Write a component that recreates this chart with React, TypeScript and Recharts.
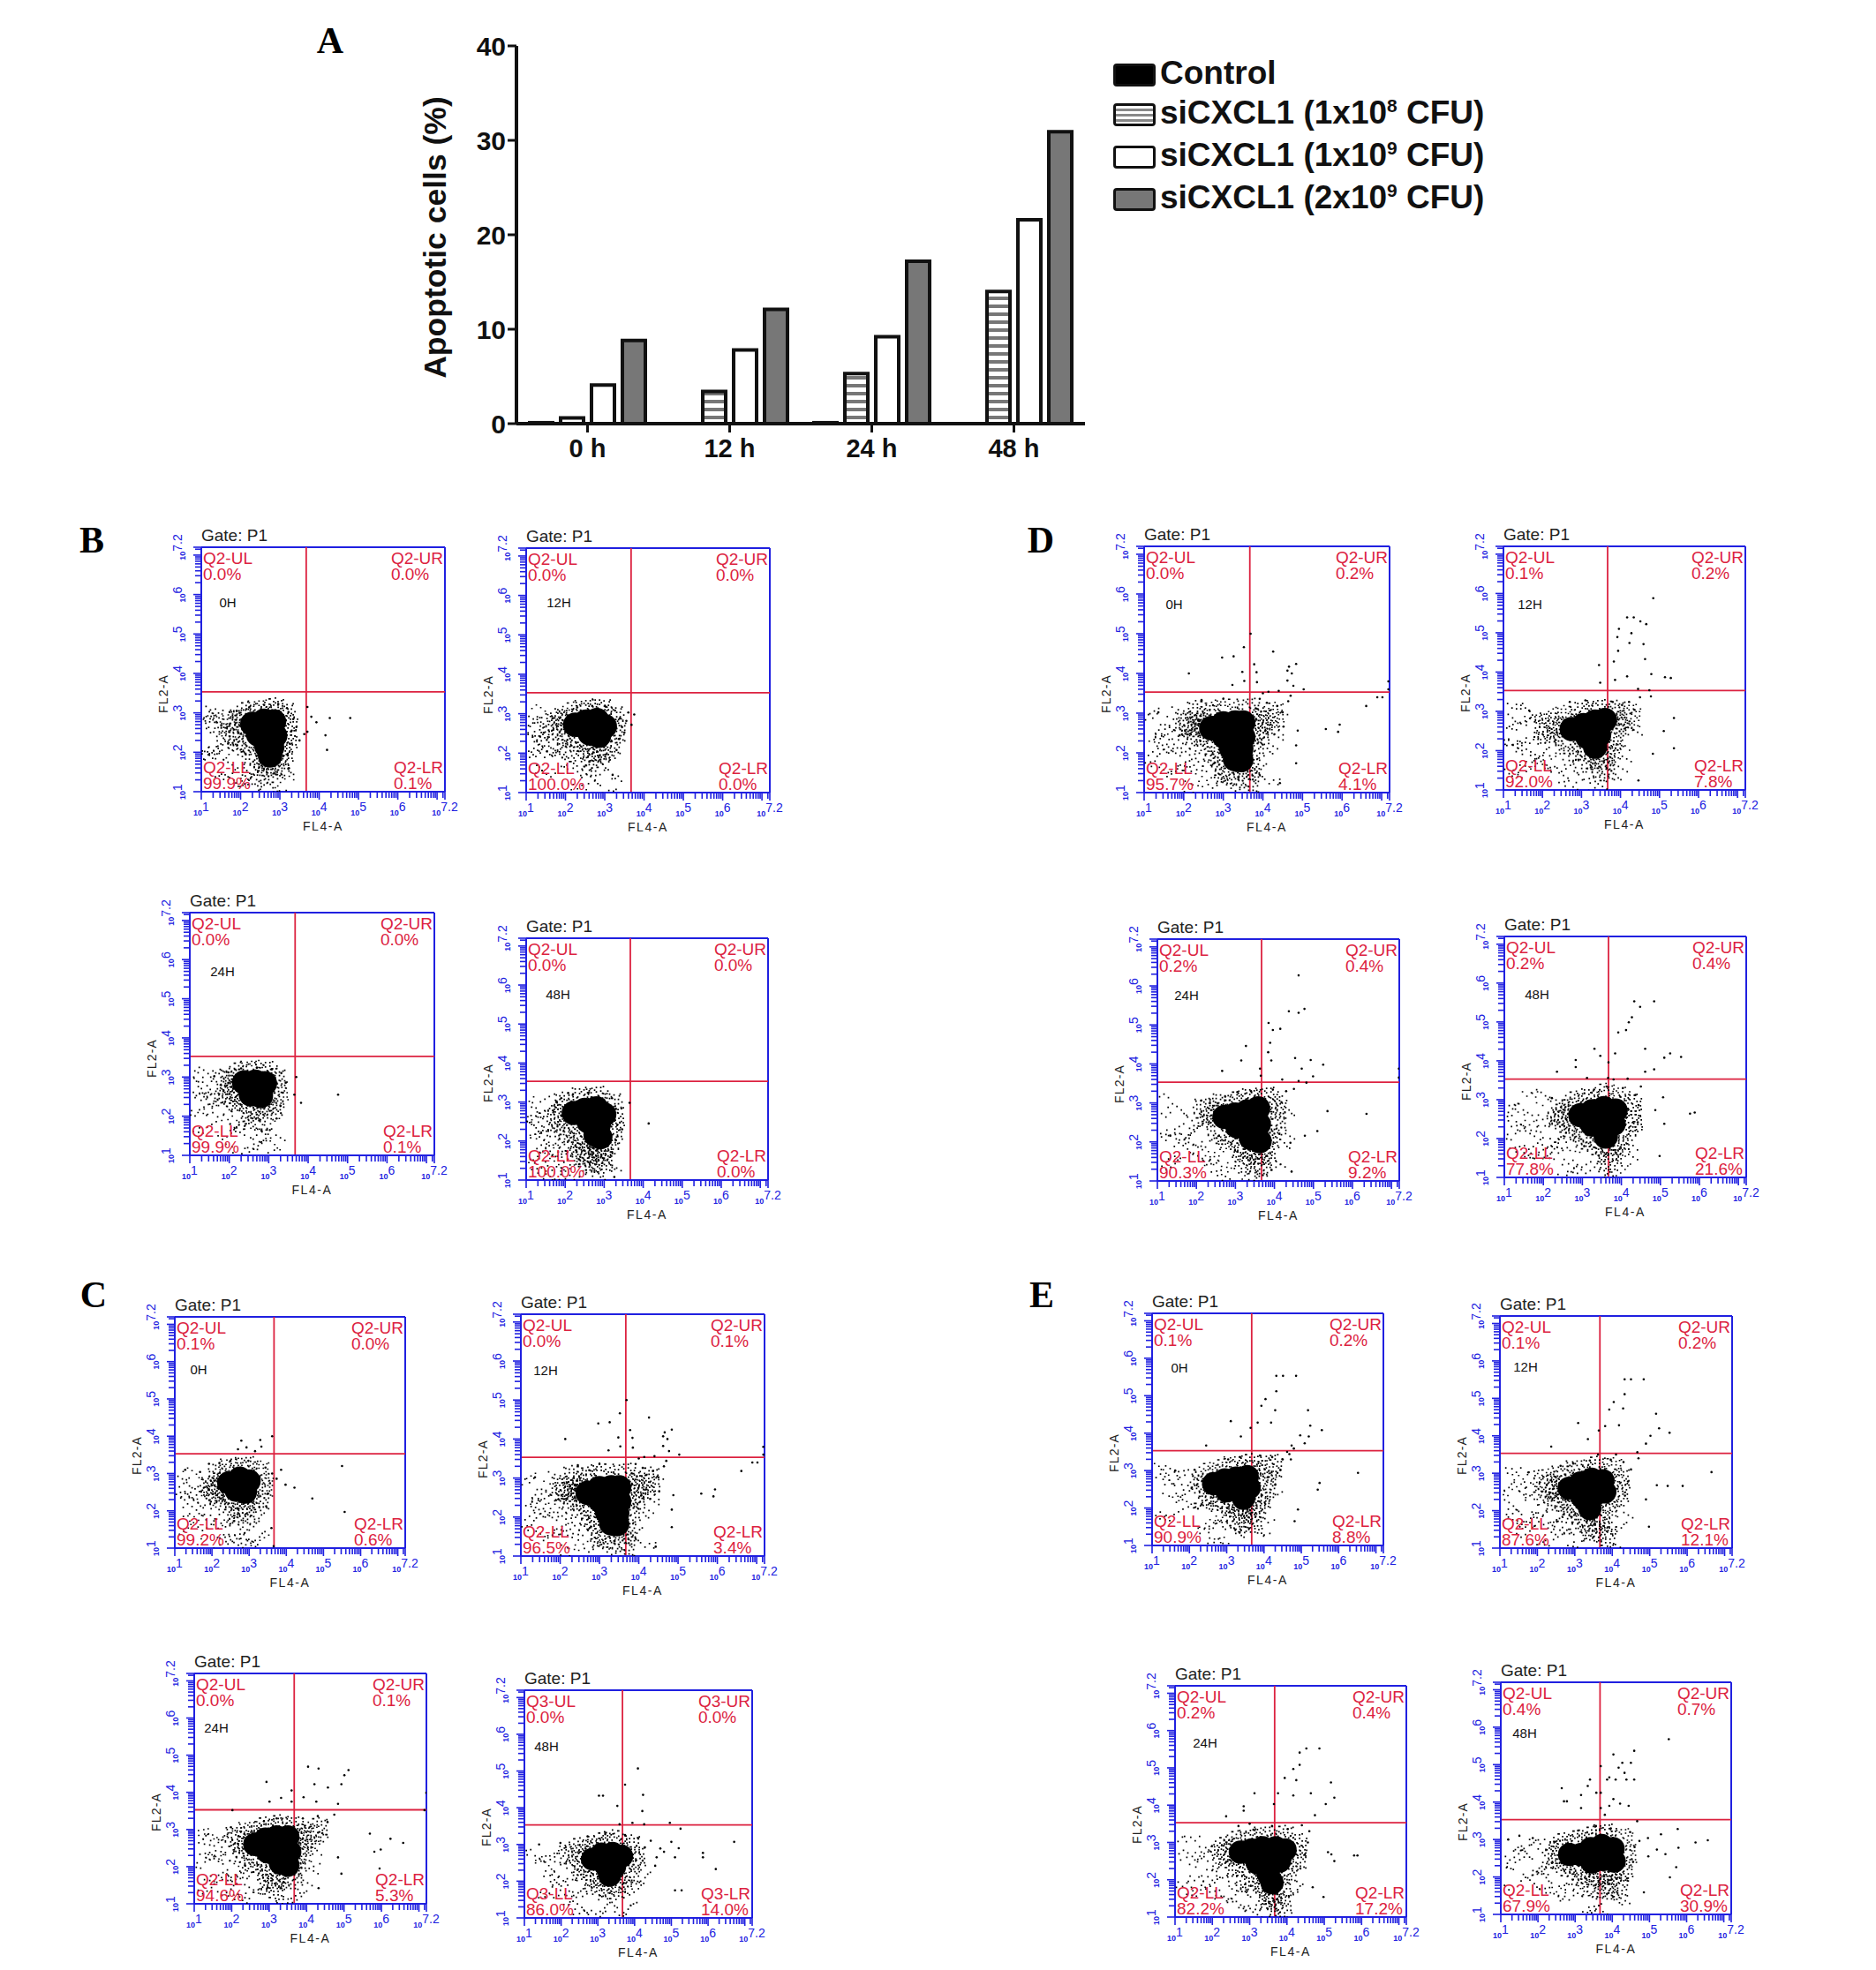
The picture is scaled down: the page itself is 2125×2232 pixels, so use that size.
import React from "react";
import {
  BarChart,
  Bar,
  XAxis,
  YAxis,
  ScatterChart,
  Scatter,
  ReferenceLine
} from "recharts";

const SANS = "'Liberation Sans', Arial, sans-serif";
const SERIF = "'Liberation Serif', 'Times New Roman', serif";
const BLUE = "#2020e0";
const RED = "#dc2240";

// panel A
const hours = ["0 h", "12 h", "24 h", "48 h"];
const control = [0.1, 0, 0.1, 0];
const low = [0.6, 3.4, 5.3, 14.0];
const mid = [4.1, 7.8, 9.2, 21.6];
const high = [8.8, 12.1, 17.2, 30.9];
const apoptosisTicks = [0, 10, 20, 30, 40];

// flow plots, all values are log10 decades
type Pt = [number, number];

const b0Core: Pt[] = [[2.3,2.72],[2.6,2.8],[2.85,2.78],[2.45,2.45],[2.72,2.48],[2.88,2.42],[2.66,2.15],[2.8,2.12],[2.75,1.92]];
const b0Rim: Pt[] = [[2.0,2.82],[1.93,2.55],[2.1,2.98],[2.45,3.05],[2.8,3.08],[3.05,2.98],[3.14,2.68],[3.12,2.32],[3.02,1.98],[2.92,1.72],[2.62,1.72],[2.34,1.98],[2.18,2.28],[1.78,2.72],[2.72,1.55]];
const b0Dots: Pt[] = [[1.08,2.96],[1.17,2.72],[1.24,2.9],[1.32,2.62],[1.41,2.8],[1.5,2.93],[1.57,2.66],[1.66,2.84],[1.18,2.31],[1.3,2.12],[1.44,2.38],[1.58,2.22],[1.71,2.48],[1.82,2.14],[1.95,2.31],[1.12,1.94],[1.27,1.71],[1.48,1.88],[1.64,1.62],[1.82,1.83],[2.0,1.94],[2.14,1.71],[2.28,1.53],[2.06,1.44],[2.44,1.33],[2.62,1.21],[2.78,1.38],[2.94,1.25],[3.06,1.46],[3.13,1.12],[2.5,1.08],[2.31,1.19],[1.88,1.27],[2.7,1.04],[3.23,1.6],[3.2,1.92],[3.25,2.22],[3.3,2.55],[3.34,2.84],[3.22,3.02],[3.42,2.64],[3.5,2.3],[3.18,3.12],[2.96,3.22],[2.6,3.2],[2.22,3.14],[1.9,3.05],[1.72,3.02],[3.7,3.15],[3.8,2.9],[3.93,2.76],[4.27,2.87],[4.79,2.87],[3.62,2.46],[3.7,2.52],[4.16,2.43],[4.2,2.06]];

const b12Core: Pt[] = [[2.25,2.72],[2.52,2.8],[2.8,2.84],[3.0,2.68],[2.62,2.5],[2.85,2.44]];
const b12Rim: Pt[] = [[1.9,2.85],[1.78,2.62],[2.12,3.0],[2.5,3.08],[2.85,3.1],[3.15,2.92],[3.22,2.6],[3.1,2.28],[2.85,2.12],[2.55,2.18],[2.3,2.35],[2.05,2.5],[2.72,1.95]];
const b12Dots: Pt[] = [[1.06,2.92],[1.14,2.66],[1.22,2.83],[1.33,2.95],[1.42,2.7],[1.5,2.52],[1.62,2.79],[1.71,2.94],[1.12,2.2],[1.21,2.42],[1.34,2.18],[1.46,2.31],[1.58,2.07],[1.72,2.26],[1.85,2.02],[1.96,2.21],[1.16,1.82],[1.38,1.94],[1.52,1.71],[1.7,1.86],[1.92,1.76],[2.1,1.93],[2.22,1.67],[2.38,1.84],[2.5,1.56],[2.64,1.72],[2.8,1.6],[2.95,1.82],[3.1,1.68],[3.2,1.45],[2.86,1.32],[2.6,1.2],[3.0,1.1],[3.18,1.06],[2.4,1.36],[3.3,2.08],[3.36,2.36],[3.44,2.66],[3.38,2.88],[3.26,3.08],[3.55,2.82],[3.5,2.52],[3.02,3.18],[2.68,3.2],[2.3,3.16],[3.75,2.98],[3.68,2.72],[3.6,3.03]];

const b24Core: Pt[] = [[2.38,2.86],[2.66,2.88],[2.9,2.84],[2.55,2.56],[2.8,2.52]];
const b24Rim: Pt[] = [[2.05,2.92],[1.95,2.72],[2.2,3.08],[2.55,3.15],[2.9,3.12],[3.12,2.92],[3.18,2.62],[3.05,2.32],[2.82,2.2],[2.56,2.24],[2.3,2.42],[2.12,2.6]];
const b24Dots: Pt[] = [[1.08,2.86],[1.2,2.74],[1.31,2.97],[1.42,2.64],[1.5,2.86],[1.62,3.02],[1.71,2.7],[1.82,2.54],[1.84,2.92],[1.16,2.14],[1.34,2.36],[1.48,2.18],[1.62,2.32],[1.78,2.14],[1.92,2.36],[2.06,2.18],[2.2,2.02],[2.42,2.05],[2.64,1.96],[2.82,2.04],[3.02,2.1],[3.2,1.94],[2.3,1.72],[2.52,1.8],[2.74,1.66],[2.96,1.78],[3.1,1.58],[2.12,1.55],[1.9,1.72],[1.36,1.7],[2.58,1.4],[2.74,1.28],[2.9,1.4],[2.3,1.22],[2.52,1.12],[3.0,1.16],[3.3,2.26],[3.36,2.6],[3.44,2.86],[3.32,3.1],[3.08,3.2],[2.7,3.24],[2.3,3.22],[1.98,3.12],[3.7,3.0],[3.65,2.55],[3.82,2.34],[4.76,2.55]];

const b48Core: Pt[] = [[2.22,2.72],[2.5,2.8],[2.8,2.84],[3.0,2.68],[2.6,2.5],[2.86,2.42],[2.78,2.16],[2.9,2.1]];
const b48Rim: Pt[] = [[1.84,2.72],[1.98,2.95],[2.35,3.08],[2.78,3.12],[3.12,2.95],[3.2,2.6],[3.15,2.25],[3.05,1.9],[2.85,1.74],[2.56,1.82],[2.34,2.08],[2.08,2.32],[2.62,1.55],[2.42,1.72],[2.9,1.52],[1.94,2.48]];
const b48Dots: Pt[] = [[1.06,2.88],[1.16,2.62],[1.28,2.98],[1.4,2.74],[1.52,2.94],[1.64,2.58],[1.78,3.02],[1.1,2.22],[1.25,2.38],[1.38,2.1],[1.5,2.3],[1.66,2.18],[1.82,2.0],[1.94,2.16],[1.14,1.76],[1.3,1.9],[1.46,1.62],[1.62,1.8],[1.76,1.52],[1.94,1.72],[2.08,1.54],[2.2,1.82],[1.2,1.3],[1.42,1.22],[1.68,1.28],[1.88,1.16],[2.1,1.3],[2.28,1.42],[2.46,1.22],[2.66,1.3],[2.82,1.14],[2.98,1.3],[3.12,1.44],[3.26,1.08],[3.2,1.72],[3.3,2.02],[3.34,2.42],[3.3,2.82],[3.2,3.1],[2.6,3.24],[2.2,3.2],[1.9,3.1],[3.46,2.3],[3.65,2.98],[4.14,2.45]];

const d0Core: Pt[] = [[2.7,2.62],[3.0,2.74],[3.3,2.76],[3.5,2.76],[3.02,2.42],[3.28,2.4],[3.5,2.4],[3.2,2.12],[3.45,2.1],[3.3,1.84],[3.45,1.82]];
const d0Rim: Pt[] = [[2.4,2.72],[2.15,2.72],[2.05,2.76],[2.3,2.5],[2.62,2.28],[2.82,2.04],[2.98,1.76],[3.08,1.52],[3.62,1.62],[3.72,2.12],[3.84,2.52],[3.92,2.84],[4.1,2.78],[4.22,2.98],[3.6,3.1],[3.05,3.08],[2.62,2.98],[2.35,3.02],[3.6,1.3]];
const d0Dots: Pt[] = [[3.69,5.0],[3.52,4.66],[2.97,4.4],[3.26,4.43],[4.26,4.55],[2.13,4.0],[3.48,4.04],[3.78,4.23],[3.84,4.03],[3.53,3.81],[3.23,3.71],[3.85,3.78],[4.66,4.17],[4.84,4.24],[4.62,4.07],[4.73,4.0],[4.62,3.82],[4.77,3.69],[5.03,3.6],[7.17,3.8],[7.17,3.6],[6.89,3.4],[7.02,3.4],[6.61,3.18],[5.94,2.71],[5.9,2.53],[5.59,2.6],[4.88,2.56],[4.84,2.19],[4.84,1.74],[4.43,1.24],[4.14,1.09],[2.45,3.33],[1.06,2.96],[1.2,2.74],[1.36,3.02],[1.5,2.62],[1.62,2.86],[1.8,2.55],[1.2,2.2],[1.4,2.38],[1.6,2.12],[1.82,2.3],[1.96,2.1],[2.12,2.34],[1.3,1.7],[1.6,1.86],[1.85,1.6],[2.06,1.82],[2.24,1.55],[2.42,1.9],[2.6,1.66],[2.8,1.42],[2.5,1.28],[2.22,1.18],[2.96,1.2],[3.2,1.35],[3.34,1.18],[3.5,1.1],[3.7,1.42],[3.8,1.74],[3.96,2.0],[4.06,2.3],[4.2,2.52],[4.38,2.74],[4.5,3.02],[4.64,3.3],[4.36,3.18],[4.1,3.26],[3.92,3.36],[3.82,3.12],[4.52,2.66],[4.7,3.44],[4.4,3.56],[4.14,3.54],[4.0,3.5],[3.0,3.36],[2.74,3.2]];

const d12Core: Pt[] = [[2.75,2.55],[3.05,2.65],[3.35,2.74],[3.6,2.78],[3.15,2.35],[3.45,2.4],[3.35,2.1]];
const d12Rim: Pt[] = [[2.4,2.58],[2.2,2.7],[2.6,2.85],[3.0,2.95],[3.4,3.02],[3.82,2.98],[4.0,2.72],[3.78,2.4],[3.7,2.08],[3.5,1.82],[3.2,1.86],[2.95,2.06],[2.62,2.24],[2.05,2.48],[4.2,2.9],[3.55,1.55]];
const d12Dots: Pt[] = [[4.84,5.88],[4.17,5.39],[4.34,5.39],[4.51,5.29],[4.66,5.22],[3.96,5.1],[4.28,4.99],[3.92,4.89],[4.23,4.74],[4.59,4.71],[3.94,4.54],[4.63,4.33],[3.83,4.27],[3.45,4.18],[4.79,3.95],[5.29,3.85],[5.14,3.87],[3.86,3.8],[4.17,3.89],[3.48,3.73],[4.45,3.57],[4.74,3.54],[5.37,2.83],[5.11,2.5],[4.83,1.92],[5.37,2.06],[4.46,1.24],[1.08,2.72],[1.2,2.95],[1.36,2.66],[1.52,2.88],[1.66,3.02],[1.8,2.62],[1.96,2.9],[1.16,2.2],[1.34,2.42],[1.5,2.1],[1.7,2.32],[1.88,2.1],[2.1,2.2],[2.26,2.02],[1.24,1.68],[1.5,1.44],[1.7,1.72],[1.92,1.52],[2.14,1.76],[2.34,1.5],[2.56,1.78],[2.78,1.52],[3.0,1.7],[3.1,1.32],[2.7,1.14],[3.34,1.22],[3.56,1.1],[3.72,1.28],[3.86,1.66],[3.96,1.92],[4.1,2.3],[4.24,2.6],[4.36,3.04],[4.5,3.36],[4.22,3.24],[4.04,3.16],[3.8,3.24],[2.7,3.24],[3.1,3.28],[4.78,3.38]];

const d24Core: Pt[] = [[2.72,2.64],[3.0,2.7],[3.3,2.78],[3.58,2.86],[3.05,2.4],[3.35,2.4],[3.6,2.46],[3.4,2.1],[3.62,2.02]];
const d24Rim: Pt[] = [[2.4,2.72],[2.22,2.84],[2.6,2.95],[3.0,3.0],[3.35,3.08],[3.78,3.12],[4.0,2.9],[3.98,2.5],[3.82,2.15],[3.72,1.72],[3.45,1.72],[3.18,1.9],[2.86,2.1],[2.58,2.28],[3.6,1.48],[3.25,1.52]];
const d24Dots: Pt[] = [[4.62,6.27],[4.77,5.41],[4.37,5.35],[4.62,5.31],[3.85,5.05],[4.15,4.9],[3.96,4.87],[3.89,4.54],[3.27,4.46],[3.15,4.09],[3.84,4.3],[3.92,4.09],[4.53,4.15],[4.93,4.1],[5.25,3.98],[4.7,3.88],[4.99,3.68],[3.63,3.88],[3.65,3.7],[2.66,3.82],[7.19,3.88],[7.19,3.65],[5.36,2.79],[6.36,2.72],[5.1,2.28],[4.78,2.16],[4.41,1.98],[4.44,1.24],[1.06,2.95],[1.2,2.5],[1.36,2.3],[1.6,2.12],[1.46,2.7],[1.8,2.42],[1.96,2.86],[2.1,2.55],[2.12,3.06],[1.2,1.9],[1.3,1.6],[1.62,1.7],[1.84,2.0],[2.05,2.2],[2.26,2.0],[2.44,1.8],[2.2,1.55],[2.56,1.5],[2.76,1.76],[2.92,1.46],[3.02,1.2],[2.66,1.18],[2.42,1.28],[3.32,1.14],[3.62,1.12],[3.84,1.26],[3.96,1.56],[4.1,1.86],[4.2,2.28],[4.22,2.7],[4.18,3.02],[4.3,3.3],[4.5,3.36],[3.96,3.34],[3.4,3.3],[3.05,3.28],[2.74,3.16],[4.62,3.56],[4.82,3.52],[4.2,3.6]];

const d48Core: Pt[] = [[2.95,2.6],[3.25,2.7],[3.55,2.78],[3.85,2.72],[3.25,2.36],[3.55,2.34],[3.8,2.38],[3.6,2.05]];
const d48Rim: Pt[] = [[2.6,2.72],[2.4,2.6],[2.76,2.92],[3.15,3.0],[3.52,3.12],[3.9,3.04],[4.2,2.86],[4.22,2.5],[4.05,2.18],[3.9,1.86],[3.62,1.72],[3.32,1.9],[3.05,2.05],[2.78,2.3],[2.5,2.48],[3.7,1.5]];
const d48Dots: Pt[] = [[4.84,5.53],[4.33,5.53],[4.48,5.39],[4.27,5.12],[4.19,4.99],[3.92,4.73],[4.12,4.79],[3.31,4.31],[3.46,4.13],[3.84,4.19],[4.61,4.31],[2.83,4.02],[3.67,3.96],[5.25,4.19],[5.1,4.08],[5.53,4.1],[4.84,3.78],[4.61,3.72],[2.35,3.72],[5.07,3.06],[4.87,2.73],[5.76,2.64],[5.88,2.67],[5.1,2.38],[4.98,1.55],[2.83,3.84],[3.12,3.56],[1.06,2.92],[1.22,2.5],[1.4,2.8],[1.56,2.95],[1.74,2.62],[1.9,2.98],[2.08,2.76],[2.22,3.04],[1.2,2.1],[1.46,2.26],[1.7,2.04],[1.96,2.3],[2.16,2.06],[2.36,2.22],[1.42,1.7],[1.8,1.62],[2.06,1.8],[2.3,1.6],[2.5,1.88],[2.74,1.62],[2.96,1.78],[2.56,1.3],[2.9,1.24],[3.16,1.42],[3.42,1.16],[3.7,1.1],[3.94,1.36],[4.1,1.66],[4.28,2.0],[4.42,2.42],[4.44,2.86],[4.36,3.12],[4.04,3.3],[3.62,3.34],[3.3,3.26],[3.66,3.56],[3.8,3.52],[4.16,3.54],[4.5,3.34]];

const c0Core: Pt[] = [[2.45,2.75],[2.75,2.88],[3.0,2.8],[2.65,2.55],[2.9,2.5]];
const c0Rim: Pt[] = [[2.12,2.72],[2.0,2.62],[2.2,2.95],[2.5,3.12],[2.9,3.16],[3.22,3.02],[3.32,2.7],[3.22,2.36],[2.95,2.2],[2.66,2.2],[2.42,2.36],[2.22,2.5],[2.82,1.98]];
const c0Dots: Pt[] = [[5.5,3.2],[4.7,2.33],[5.57,1.97],[2.79,3.88],[3.3,3.9],[3.62,4.0],[2.7,3.65],[2.93,3.7],[3.16,3.6],[3.33,3.72],[1.08,2.9],[1.16,2.64],[1.28,3.1],[1.42,2.86],[1.54,2.68],[1.68,3.04],[1.82,2.88],[1.92,3.26],[1.14,2.2],[1.3,2.42],[1.46,2.1],[1.62,2.3],[1.8,2.12],[1.98,2.3],[2.1,2.1],[1.2,1.7],[1.42,1.9],[1.62,1.6],[1.82,1.8],[2.06,1.64],[2.24,1.86],[2.44,1.9],[2.62,1.7],[2.96,1.74],[3.1,1.96],[2.7,1.48],[2.9,1.3],[2.5,1.22],[3.12,1.46],[2.34,1.08],[2.72,1.1],[3.2,1.18],[3.46,2.12],[3.5,2.46],[3.56,2.74],[3.62,3.0],[3.44,3.16],[3.74,2.86],[3.86,3.1],[3.98,2.7],[4.22,2.62],[3.6,1.54],[3.66,1.05],[2.5,3.34],[2.98,3.34],[2.2,3.28]];

const c24Core: Pt[] = [[2.62,2.6],[2.9,2.74],[3.2,2.8],[3.5,2.8],[2.96,2.4],[3.3,2.4],[3.55,2.4],[3.3,2.1],[3.5,2.04]];
const c24Rim: Pt[] = [[2.3,2.66],[2.12,2.78],[2.46,2.92],[2.82,3.02],[3.2,3.08],[3.58,3.04],[3.82,2.82],[3.82,2.44],[3.66,2.1],[3.56,1.72],[3.2,1.72],[2.96,1.95],[2.64,2.18],[2.42,2.36],[4.02,2.82],[4.24,3.0],[3.08,1.5]];
const c24Dots: Pt[] = [[4.04,4.69],[4.32,4.64],[5.12,4.6],[5.01,4.46],[2.93,4.28],[4.21,4.22],[4.57,4.13],[4.93,4.22],[3.6,4.05],[3.92,3.87],[3.01,3.75],[3.32,3.85],[3.6,3.75],[4.26,3.75],[4.84,3.69],[2.02,3.52],[7.2,3.99],[7.15,3.52],[5.69,2.89],[6.24,2.75],[6.58,2.64],[5.98,2.46],[5.81,2.4],[4.84,2.25],[4.93,1.81],[5.95,1.95],[4.32,1.42],[1.08,2.9],[1.22,2.6],[1.4,2.92],[1.56,2.7],[1.72,2.98],[1.86,2.52],[1.98,3.06],[1.2,2.1],[1.44,2.28],[1.64,2.06],[1.86,2.22],[2.06,2.04],[2.24,2.26],[1.3,1.6],[1.56,1.74],[1.82,1.56],[2.04,1.74],[2.26,1.58],[2.44,1.82],[2.68,1.62],[2.86,1.4],[2.5,1.28],[2.2,1.16],[2.96,1.14],[3.24,1.3],[3.5,1.12],[3.7,1.36],[3.82,1.7],[3.98,2.02],[4.1,2.36],[4.26,2.62],[4.42,2.9],[4.56,3.2],[4.74,3.4],[4.3,3.36],[3.9,3.3],[3.2,3.3],[2.86,3.22]];

const c48Core: Pt[] = [[2.85,2.6],[3.1,2.74],[3.4,2.76],[3.65,2.68],[3.2,2.44],[3.46,2.4],[3.32,2.16]];
const c48Rim: Pt[] = [[2.52,2.66],[2.42,2.86],[2.8,2.92],[3.1,3.02],[3.45,3.08],[3.82,2.94],[3.96,2.64],[3.82,2.28],[3.6,2.0],[3.4,1.86],[3.12,1.94],[2.92,2.2],[2.66,2.34]];
const c48Dots: Pt[] = [[4.09,5.07],[3.74,4.63],[4.23,4.35],[3.03,4.33],[3.14,4.33],[3.53,4.05],[4.21,3.91],[3.59,3.55],[3.94,3.59],[4.26,3.55],[4.96,3.59],[5.25,3.43],[6.71,3.07],[5.86,2.77],[5.86,2.65],[6.21,2.33],[5.1,1.75],[5.28,1.75],[4.7,2.89],[5.0,3.07],[5.2,2.9],[4.8,2.8],[5.1,2.65],[4.6,2.65],[1.2,2.76],[1.4,3.0],[1.6,2.66],[1.78,2.92],[1.98,3.04],[2.12,2.62],[2.26,2.9],[1.5,2.3],[1.8,2.44],[2.04,2.2],[2.28,2.4],[2.46,2.16],[1.66,1.86],[1.98,1.72],[2.2,1.92],[2.44,1.7],[2.66,1.92],[2.8,1.6],[3.02,1.44],[2.6,1.4],[2.4,1.16],[2.9,1.2],[3.22,1.3],[3.46,1.12],[3.66,1.4],[3.8,1.7],[3.94,1.96],[4.12,2.26],[4.22,2.56],[4.28,2.92],[4.1,3.16],[3.74,3.26],[3.2,3.28],[2.72,3.22],[4.44,3.1],[4.56,2.42]];

const e0Core: Pt[] = [[2.65,2.65],[2.95,2.75],[3.25,2.8],[3.55,2.84],[3.0,2.46],[3.3,2.46],[3.6,2.54],[3.45,2.26]];
const e0Rim: Pt[] = [[2.34,2.64],[2.46,2.9],[2.84,3.0],[3.2,3.1],[3.58,3.14],[3.94,3.0],[4.0,2.66],[3.86,2.32],[3.72,2.02],[3.44,1.96],[3.16,2.1],[2.86,2.22],[2.56,2.36],[3.3,1.76],[3.62,1.66],[4.16,3.14]];
const e0Dots: Pt[] = [[4.86,5.53],[4.51,5.53],[4.33,5.53],[4.33,5.12],[4.04,4.91],[3.93,4.73],[4.3,4.61],[5.18,4.61],[3.11,4.32],[4.19,4.28],[3.83,4.28],[5.24,4.2],[5.55,4.08],[3.64,4.14],[3.38,3.91],[4.97,3.94],[5.2,3.91],[5.09,3.73],[4.74,3.67],[4.8,3.59],[2.45,3.67],[4.68,3.44],[6.52,2.94],[5.49,2.67],[5.44,2.49],[4.91,1.96],[4.82,1.65],[1.14,2.9],[1.3,2.62],[1.44,2.84],[1.56,2.5],[1.62,3.0],[1.84,2.62],[2.0,2.92],[2.14,3.02],[1.2,2.08],[1.5,1.8],[1.84,2.24],[2.06,2.36],[2.26,2.12],[2.44,1.86],[2.66,2.02],[2.84,1.78],[2.56,1.58],[2.76,1.36],[3.02,1.54],[3.16,1.24],[2.5,1.2],[2.96,1.12],[3.46,1.2],[3.7,1.3],[3.9,1.6],[4.02,1.96],[4.16,2.26],[4.3,2.62],[4.36,2.94],[4.5,3.3],[4.44,3.02],[4.22,3.36],[3.9,3.4],[3.36,3.36],[3.04,3.3],[4.62,3.5],[4.72,3.3]];

const e12Core: Pt[] = [[2.85,2.6],[3.15,2.74],[3.45,2.84],[3.75,2.8],[3.2,2.36],[3.5,2.4],[3.8,2.5],[3.4,2.06]];
const e12Rim: Pt[] = [[2.54,2.62],[2.34,2.66],[2.2,2.8],[2.66,2.92],[3.04,3.06],[3.5,3.14],[3.94,3.1],[4.14,2.82],[4.1,2.46],[3.84,2.14],[3.62,1.84],[3.22,1.76],[3.0,2.02],[2.76,2.22],[2.5,2.3],[3.5,1.5],[3.78,1.4]];
const e12Dots: Pt[] = [[4.84,5.51],[4.5,5.51],[4.33,5.51],[4.33,5.11],[4.04,4.9],[3.92,4.7],[4.29,4.73],[5.17,4.59],[3.09,4.34],[4.18,4.28],[3.81,4.26],[5.25,4.2],[5.53,4.08],[3.64,4.14],[3.35,3.91],[5.02,4.0],[4.9,3.79],[2.37,3.71],[4.67,3.56],[6.65,3.03],[5.48,2.66],[5.19,2.68],[5.88,2.66],[4.9,2.3],[4.98,1.57],[1.08,2.78],[1.24,2.54],[1.42,2.88],[1.6,2.7],[1.76,3.02],[1.92,2.5],[2.06,2.98],[1.2,2.0],[1.44,2.2],[1.66,1.96],[1.9,2.16],[2.1,2.3],[2.26,2.04],[1.3,1.54],[1.64,1.62],[1.9,1.44],[2.12,1.7],[2.36,1.86],[2.58,1.62],[2.8,1.82],[3.0,1.5],[2.7,1.24],[2.34,1.2],[3.1,1.16],[3.44,1.22],[3.72,1.1],[3.96,1.3],[4.08,1.7],[4.22,2.02],[4.34,2.4],[4.42,2.78],[4.5,3.1],[4.3,3.3],[3.96,3.36],[3.4,3.34],[2.96,3.26],[2.62,3.2],[4.7,3.4],[4.1,3.5],[3.62,3.5]];

const e24Core: Pt[] = [[2.75,2.74],[3.05,2.8],[3.35,2.86],[3.7,2.86],[3.95,2.8],[3.2,2.46],[3.5,2.46],[3.8,2.5],[3.5,2.16],[3.6,1.92]];
const e24Rim: Pt[] = [[2.44,2.72],[2.28,2.84],[2.6,3.0],[3.0,3.06],[3.4,3.14],[3.86,3.14],[4.2,2.94],[4.2,2.62],[3.96,2.26],[3.78,1.9],[3.46,1.76],[3.2,2.0],[2.94,2.2],[2.66,2.42],[3.56,1.52],[3.8,1.32]];
const e24Dots: Pt[] = [[4.87,5.52],[4.34,5.41],[4.52,5.52],[4.34,5.08],[4.17,4.97],[3.94,4.73],[4.25,4.67],[5.18,4.61],[3.13,4.32],[4.17,4.26],[3.76,4.32],[4.64,4.32],[5.27,4.2],[5.04,4.03],[3.65,4.03],[2.84,3.97],[2.84,3.85],[4.75,3.73],[2.37,3.7],[5.8,2.65],[5.89,2.65],[5.1,2.74],[5.19,2.68],[5.27,2.5],[4.98,1.54],[4.69,1.8],[1.06,2.88],[1.3,2.5],[1.52,2.9],[1.74,2.96],[1.92,2.62],[2.08,2.98],[1.3,2.1],[1.62,2.26],[1.9,2.08],[2.14,2.36],[2.36,2.18],[2.56,2.0],[1.6,1.7],[1.98,1.84],[2.22,1.62],[2.46,1.76],[2.72,1.56],[2.94,1.8],[3.1,1.54],[2.6,1.2],[3.0,1.2],[3.3,1.32],[3.5,1.14],[3.7,1.08],[3.96,1.5],[4.12,1.9],[4.36,2.3],[4.48,2.68],[4.56,3.0],[4.6,3.3],[4.4,3.46],[4.02,3.36],[3.6,3.44],[3.1,3.34],[2.7,3.44],[3.0,3.5]];

const e48Core: Pt[] = [[2.85,2.6],[3.15,2.6],[3.42,2.76],[3.72,2.84],[4.02,2.76],[3.45,2.4],[3.75,2.46],[4.05,2.42]];
const e48Rim: Pt[] = [[2.5,2.66],[2.62,2.86],[3.02,2.94],[3.4,3.04],[3.78,3.12],[4.22,3.0],[4.32,2.6],[4.22,2.22],[3.9,2.1],[3.6,2.04],[3.3,2.1],[3.0,2.26],[2.7,2.36],[3.46,1.78],[3.84,1.72],[4.1,1.8]];
const e48Dots: Pt[] = [[5.52,5.68],[4.59,5.37],[4.03,5.27],[3.69,4.96],[4.5,5.05],[4.27,5.05],[4.17,4.92],[4.33,4.78],[3.4,4.6],[3.86,4.6],[3.92,4.66],[4.09,4.6],[4.38,4.6],[4.59,4.6],[2.64,4.37],[3.16,4.19],[3.34,4.43],[3.57,4.25],[3.69,4.25],[4.03,4.08],[2.7,4.02],[2.78,4.02],[3.16,3.84],[3.69,3.84],[3.92,3.9],[4.21,3.96],[4.44,3.9],[3.8,3.66],[4.67,3.49],[4.96,3.04],[5.31,3.14],[5.76,3.28],[5.78,2.78],[6.24,2.92],[6.57,2.98],[4.97,2.55],[5.55,1.99],[4.85,1.59],[4.73,2.96],[5.2,2.73],[5.43,2.61],[5.72,2.26],[1.2,3.0],[1.32,2.78],[1.5,3.1],[1.68,2.82],[1.86,3.04],[2.04,2.74],[2.2,2.98],[1.3,2.36],[1.54,2.5],[1.8,2.3],[2.06,2.4],[2.3,2.2],[2.5,2.36],[1.08,1.96],[1.74,1.7],[2.06,1.86],[2.34,1.62],[2.6,1.88],[2.86,1.7],[3.06,1.92],[3.16,1.48],[2.82,1.24],[3.1,1.12],[3.4,1.3],[3.66,1.14],[3.96,1.28],[4.14,1.5],[4.4,1.96],[4.56,2.4],[4.6,2.8],[4.48,3.2],[3.96,3.3],[3.56,3.36],[3.08,3.24]];

// C 12H looks like the same acquisition as D 0H in the picture, same cloud
const c12Core = d0Core;
const c12Rim = d0Rim;
const c12Dots = d0Dots;

const QV = 3.67;
const QH = 3.53;

const majorDecades = [1, 2, 3, 4, 5, 6, 7];
const minorFactors = [2, 3, 4, 5, 6, 7, 8, 9];
const logTicks: number[] = [];
majorDecades.forEach((d) => {
  logTicks.push(d);
  if (d < 7) minorFactors.forEach((f) => logTicks.push(d + Math.log10(f)));
});
logTicks.push(7.15, 7.2);

function expLabel(v: number) {
  if (v === 7.2) return "7.2";
  if (Number.isInteger(v) && v < 7) return String(v);
  return null;
}

function XTick({ x, y, payload }: any) {
  const v = payload.value;
  const lab = expLabel(v);
  const major = Number.isInteger(v) || v === 7.2;
  return (
    <g>
      <line x1={x} x2={x} y1={y} y2={y + (major ? 9 : 7)} stroke={BLUE} strokeWidth={1.6} />
      {lab && (
        <text x={x} y={y + 27} textAnchor="middle" fill={BLUE} fontFamily={SANS} fontWeight={700}>
          <tspan fontSize={9}>10</tspan>
          <tspan fontSize={14} dy={-5} fontWeight={400}>{lab}</tspan>
        </text>
      )}
    </g>
  );
}

function YTick({ x, y, payload }: any) {
  const v = payload.value;
  const lab = expLabel(v);
  const major = Number.isInteger(v) || v === 7.2;
  return (
    <g>
      <line x1={x} x2={x - (major ? 9 : 7)} y1={y} y2={y} stroke={BLUE} strokeWidth={1.6} />
      {lab && (
        <text
          x={x - 18}
          y={y}
          textAnchor="middle"
          transform={`rotate(-90 ${x - 18} ${y})`}
          fill={BLUE}
          fontFamily={SANS}
          fontWeight={700}
        >
          <tspan fontSize={9}>10</tspan>
          <tspan fontSize={14} dy={-4} fontWeight={400}>{lab}</tspan>
        </text>
      )}
    </g>
  );
}

// the picture holds thousands of events, so a point read from a speckled
// area stands for a small patch of specks around it
const SPECKS: Pt[] = [[-13,-3],[-10,6],[-9,-9],[-6,1],[-5,11],[-4,-13],[-2,-5],[0,7],[1,-10],[3,2],[5,12],[6,-6],[8,5],[10,-11],[12,0],[13,8],[-12,12],[9,-2],[-7,-4],[3,-14]];

const toRows = (pts: Pt[]) => pts.map(([x, y]) => ({ x, y }));

type PanelProps = {
  left: number;
  top: number;
  w: number;
  h: number;
  cloudX: number;
  hour: string;
  hourX: number;
  hourY: number;
  names: string[];
  pct: string[];
  core: Pt[];
  rim: Pt[];
  dots: Pt[];
};

function Quad({ name, val, style }: { name: string; val: string; style: React.CSSProperties }) {
  return (
    <div
      style={{
        position: "absolute",
        color: RED,
        fontFamily: SANS,
        fontSize: 19,
        lineHeight: "18px",
        whiteSpace: "nowrap",
        ...style
      }}
    >
      {name}
      <br />
      {val}
    </div>
  );
}

function FlowPanel({ left, top, w, h, cloudX, hour, hourX, hourY, names, pct, core, rim, dots }: PanelProps) {
  const inPlot = (sx: number, sy: number) => sx >= 60 && sx <= 60 + w && sy >= 30 && sy <= 30 + h;
  const patch = (p: any, double: boolean) => {
    const key = Math.round(p.payload.x * 100) + Math.round(p.payload.y * 100);
    const fx = key % 2 === 0 ? 1 : -1;
    const fy = key % 4 < 2 ? 1 : -1;
    let d = "";
    SPECKS.forEach(([ox, oy], i) => {
      // outer cloud is thinner, only every third speck there
      if (!double && i % 3 !== key % 3) return;
      const ax = p.cx + ox * fx;
      const ay = p.cy + oy * fy;
      if (inPlot(ax, ay)) d += `M${ax} ${ay}h1.7v1.7h-1.7z`;
      if (double) {
        const bx = p.cx + oy * fx;
        const by = p.cy + ox * fy;
        if (inPlot(bx, by)) d += `M${bx} ${by}h1.7v1.7h-1.7z`;
      }
    });
    return <path d={d} fill="#000" />;
  };
  const coreShape = (p: any) => <circle cx={p.cx} cy={p.cy} r={14 * (w / 278)} fill="#000" />;
  const rimShape = (p: any) => patch(p, true);
  const dotShape = (p: any) => {
    const { x, y } = p.payload;
    if (x < cloudX && y < 3.0) return patch(p, false);
    return <circle cx={p.cx} cy={p.cy} r={1.3} fill="#000" />;
  };
  return (
    <div style={{ position: "absolute", left, top, width: w, height: h }}>
      <div style={{ position: "absolute", left: -60, top: -30 }}>
        <ScatterChart
          width={w + 105}
          height={h + 90}
          margin={{ left: 20, right: 45, top: 30, bottom: 20 }}
        >
          <XAxis
            type="number"
            dataKey="x"
            domain={[1, 7.2]}
            ticks={logTicks}
            interval={0}
            height={40}
            tick={<XTick />}
            tickLine={false}
            tickSize={0}
            tickMargin={0}
            axisLine={{ stroke: BLUE, strokeWidth: 2 }}
            allowDataOverflow
          />
          <YAxis
            type="number"
            dataKey="y"
            domain={[1, 7.2]}
            ticks={logTicks}
            interval={0}
            width={40}
            tick={<YTick />}
            tickLine={false}
            tickSize={0}
            tickMargin={0}
            axisLine={{ stroke: BLUE, strokeWidth: 2 }}
            allowDataOverflow
          />
          <Scatter data={toRows(dots)} shape={dotShape} isAnimationActive={false} />
          <Scatter data={toRows(rim)} shape={rimShape} isAnimationActive={false} />
          <Scatter data={toRows(core)} shape={coreShape} isAnimationActive={false} />
          <ReferenceLine x={7.2} stroke={BLUE} strokeWidth={2} />
          <ReferenceLine y={7.2} stroke={BLUE} strokeWidth={2} />
          <ReferenceLine x={QV} stroke={RED} strokeWidth={1.8} />
          <ReferenceLine y={QH} stroke={RED} strokeWidth={1.8} />
        </ScatterChart>
      </div>
      <div style={{ position: "absolute", left: 0, top: -24, fontFamily: SANS, fontSize: 19, lineHeight: "21px", color: "#222", whiteSpace: "nowrap" }}>
        Gate: P1
      </div>
      <div style={{ position: "absolute", left: hourX - 20, width: 40, textAlign: "center", top: hourY - 8, fontFamily: SANS, fontSize: 15, lineHeight: "16px", color: "#111" }}>
        {hour}
      </div>
      <Quad name={names[0]} val={pct[0]} style={{ left: 2, top: 4 }} />
      <Quad name={names[1]} val={pct[1]} style={{ right: 2, top: 4 }} />
      <Quad name={names[2]} val={pct[2]} style={{ left: 2, bottom: 0 }} />
      <Quad name={names[3]} val={pct[3]} style={{ right: 2, bottom: 0 }} />
      <div style={{ position: "absolute", left: 0, width: w, textAlign: "center", top: h + 31, fontFamily: SANS, fontSize: 14, letterSpacing: 1.6, color: "#222" }}>
        FL4-A
      </div>
      <div
        style={{
          position: "absolute",
          left: -43,
          top: h * 0.6,
          fontFamily: SANS,
          fontSize: 14,
          letterSpacing: 1.2,
          color: "#222",
          transform: "translate(-50%,-50%) rotate(-90deg)",
          whiteSpace: "nowrap"
        }}
      >
        FL2-A
      </div>
    </div>
  );
}

const Q2 = ["Q2-UL", "Q2-UR", "Q2-LL", "Q2-LR"];
const Q3 = ["Q3-UL", "Q3-UR", "Q3-LL", "Q3-LR"];

function PanelLetter({ ch, x, y }: { ch: string; x: number; y: number }) {
  return (
    <div style={{ position: "absolute", left: x, top: y, transform: "translate(-50%,-50%)", fontFamily: SERIF, fontWeight: 700, fontSize: 42, lineHeight: "42px" }}>
      {ch}
    </div>
  );
}

const legendNames = [
  { base: "Control", sup: "", tail: "" },
  { base: "siCXCL1 (1x10", sup: "8", tail: " CFU)" },
  { base: "siCXCL1 (1x10", sup: "9", tail: " CFU)" },
  { base: "siCXCL1 (2x10", sup: "9", tail: " CFU)" }
];
const legendTops = [72, 117, 165, 213];
const legendFills = [
  "#000",
  "repeating-linear-gradient(#fff 0 3px, #888 3px 6px)",
  "#fff",
  "#777"
];

function BarLegend() {
  return (
    <>
      {legendNames.map((n, i) => (
        <div key={i} style={{ position: "absolute", left: 1261, top: legendTops[i] }}>
          <div
            style={{
              position: "absolute",
              left: 0,
              top: 0,
              width: 42,
              height: 20,
              border: "3.5px solid #111",
              borderRadius: 4,
              background: legendFills[i]
            }}
          />
          <div
            style={{
              position: "absolute",
              left: 53,
              top: -9,
              fontFamily: SANS,
              fontWeight: 700,
              fontSize: 37,
              lineHeight: "40px",
              whiteSpace: "nowrap",
              color: "#111"
            }}
          >
            {n.base}
            {n.sup && <sup style={{ fontSize: 21, lineHeight: 0 }}>{n.sup}</sup>}
            {n.tail}
          </div>
        </div>
      ))}
    </>
  );
}

const barRows = hours.map((h, i) => ({
  hour: h,
  control: control[i],
  low: low[i],
  mid: mid[i],
  high: high[i]
}));

function ApoptosisBars() {
  return (
    <div style={{ position: "absolute", left: 450, top: 30 }}>
      <BarChart
        width={820}
        height={520}
        data={barRows}
        barSize={26}
        barGap={9}
        barCategoryGap={12}
        margin={{ left: 75, right: 41, top: 22, bottom: 30 }}
      >
        <defs>
          <pattern id="hstripes" width="6" height="9" patternUnits="userSpaceOnUse">
            <rect width="6" height="9" fill="#fff" />
            <rect width="6" height="4" fill="#777" />
          </pattern>
        </defs>
        <XAxis
          dataKey="hour"
          height={40}
          tick={{ fontSize: 29, fontWeight: 700, fill: "#111", fontFamily: SANS, dy: 5 }}
          tickSize={10}
          tickLine={{ stroke: "#111", strokeWidth: 3 }}
          axisLine={{ stroke: "#111", strokeWidth: 4 }}
        />
        <YAxis
          domain={[0, 40]}
          ticks={apoptosisTicks}
          width={60}
          tick={{ fontSize: 30, fontWeight: 700, fill: "#111", fontFamily: SANS }}
          tickSize={10}
          tickLine={{ stroke: "#111", strokeWidth: 3 }}
          axisLine={{ stroke: "#111", strokeWidth: 4 }}
        />
        <Bar dataKey="control" fill="#000" stroke="#111" strokeWidth={4} isAnimationActive={false} />
        <Bar dataKey="low" fill="url(#hstripes)" stroke="#111" strokeWidth={4} isAnimationActive={false} />
        <Bar dataKey="mid" fill="#fff" stroke="#111" strokeWidth={4} isAnimationActive={false} />
        <Bar dataKey="high" fill="#777" stroke="#111" strokeWidth={4} isAnimationActive={false} />
      </BarChart>
    </div>
  );
}

export default function App() {
  return (
    <div style={{ position: "absolute", left: 0, top: 0, width: 2125, height: 2232, background: "#fff", overflow: "hidden" }}>
      <PanelLetter ch="A" x={374} y={46} />
      <PanelLetter ch="B" x={104} y={612} />
      <PanelLetter ch="D" x={1179} y={612} />
      <PanelLetter ch="C" x={106} y={1467} />
      <PanelLetter ch="E" x={1180} y={1467} />

      <ApoptosisBars />
      <BarLegend />
      <div
        style={{
          position: "absolute",
          left: 493,
          top: 269,
          transform: "translate(-50%,-50%) rotate(-90deg)",
          fontFamily: SANS,
          fontWeight: 700,
          fontSize: 35.5,
          whiteSpace: "nowrap",
          color: "#111"
        }}
      >
        Apoptotic cells (%)
      </div>

      <FlowPanel left={228} top={620} w={276} h={277} cloudX={3.2} hour="0H" hourX={30} hourY={63} names={Q2} pct={["0.0%", "0.0%", "99.9%", "0.1%"]} core={b0Core} rim={b0Rim} dots={b0Dots} />
      <FlowPanel left={596} top={621} w={276} h={277} cloudX={3.2} hour="12H" hourX={37} hourY={62} names={Q2} pct={["0.0%", "0.0%", "100.0%", "0.0%"]} core={b12Core} rim={b12Rim} dots={b12Dots} />
      <FlowPanel left={215} top={1034} w={277} h={275} cloudX={3.2} hour="24H" hourX={37} hourY={67} names={Q2} pct={["0.0%", "0.0%", "99.9%", "0.1%"]} core={b24Core} rim={b24Rim} dots={b24Dots} />
      <FlowPanel left={596} top={1063} w={274} h={274} cloudX={3.2} hour="48H" hourX={36} hourY={64} names={Q2} pct={["0.0%", "0.0%", "100.0%", "0.0%"]} core={b48Core} rim={b48Rim} dots={b48Dots} />

      <FlowPanel left={1296} top={619} w={278} h={279} cloudX={4.4} hour="0H" hourX={34} hourY={66} names={Q2} pct={["0.0%", "0.2%", "95.7%", "4.1%"]} core={d0Core} rim={d0Rim} dots={d0Dots} />
      <FlowPanel left={1703} top={619} w={274} h={276} cloudX={4.4} hour="12H" hourX={30} hourY={66} names={Q2} pct={["0.1%", "0.2%", "92.0%", "7.8%"]} core={d12Core} rim={d12Rim} dots={d12Dots} />
      <FlowPanel left={1311} top={1064} w={274} h={274} cloudX={4.3} hour="24H" hourX={33} hourY={64} names={Q2} pct={["0.2%", "0.4%", "90.3%", "9.2%"]} core={d24Core} rim={d24Rim} dots={d24Dots} />
      <FlowPanel left={1704} top={1061} w={274} h={273} cloudX={4.3} hour="48H" hourX={37} hourY={66} names={Q2} pct={["0.2%", "0.4%", "77.8%", "21.6%"]} core={d48Core} rim={d48Rim} dots={d48Dots} />

      <FlowPanel left={198} top={1492} w={261} h={262} cloudX={3.4} hour="0H" hourX={27} hourY={60} names={Q2} pct={["0.1%", "0.0%", "99.2%", "0.6%"]} core={c0Core} rim={c0Rim} dots={c0Dots} />
      <FlowPanel left={590} top={1489} w={276} h={274} cloudX={4.4} hour="12H" hourX={28} hourY={64} names={Q2} pct={["0.0%", "0.1%", "96.5%", "3.4%"]} core={c12Core} rim={c12Rim} dots={c12Dots} />
      <FlowPanel left={220} top={1896} w={263} h={261} cloudX={4.3} hour="24H" hourX={25} hourY={62} names={Q2} pct={["0.0%", "0.1%", "94.6%", "5.3%"]} core={c24Core} rim={c24Rim} dots={c24Dots} />
      <FlowPanel left={594} top={1915} w={258} h={258} cloudX={4.2} hour="48H" hourX={25} hourY={64} names={Q3} pct={["0.0%", "0.0%", "86.0%", "14.0%"]} core={c48Core} rim={c48Rim} dots={c48Dots} />

      <FlowPanel left={1305} top={1488} w={262} h={263} cloudX={4.2} hour="0H" hourX={31} hourY={62} names={Q2} pct={["0.1%", "0.2%", "90.9%", "8.8%"]} core={e0Core} rim={e0Rim} dots={e0Dots} />
      <FlowPanel left={1699} top={1491} w={263} h={263} cloudX={4.3} hour="12H" hourX={29} hourY={58} names={Q2} pct={["0.1%", "0.2%", "87.6%", "12.1%"]} core={e12Core} rim={e12Rim} dots={e12Dots} />
      <FlowPanel left={1331} top={1910} w={262} h={262} cloudX={4.3} hour="24H" hourX={34} hourY={65} names={Q2} pct={["0.2%", "0.4%", "82.2%", "17.2%"]} core={e24Core} rim={e24Rim} dots={e24Dots} />
      <FlowPanel left={1700} top={1906} w={261} h={263} cloudX={4.3} hour="48H" hourX={27} hourY={58} names={Q2} pct={["0.4%", "0.7%", "67.9%", "30.9%"]} core={e48Core} rim={e48Rim} dots={e48Dots} />
    </div>
  );
}
